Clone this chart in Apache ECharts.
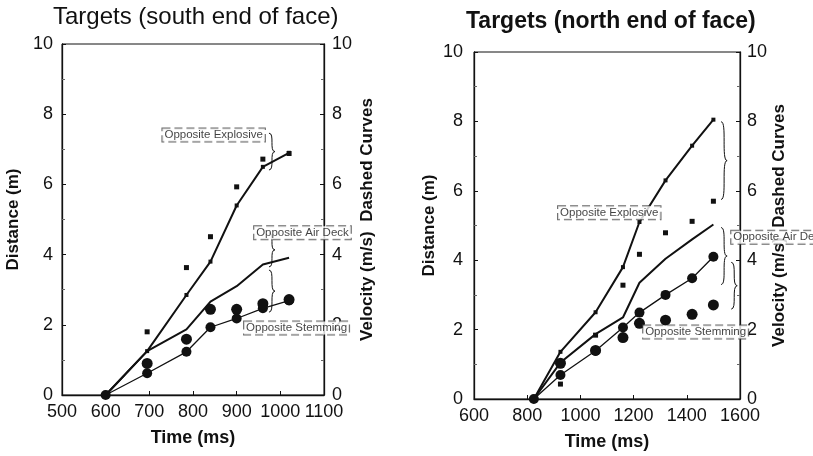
<!DOCTYPE html>
<html>
<head>
<meta charset="utf-8">
<script src="https://cdn.jsdelivr.net/npm/echarts@6/dist/echarts.min.js"></script>
<style>
  html, body { margin: 0; padding: 0; background: #fff; }
  #chart { width: 813px; height: 456px; }
</style>
</head>
<body>
<div id="chart"></div>
<script>
// south end of face
const southTime = [600, 695, 785, 840, 900, 960, 1020];
const southExplosiveDist = [0, 1.25, 2.85, 3.8, 5.4, 6.5, 6.9];
const southAirDeckDist = [0, 1.25, 1.87, 2.66, 3.1, 3.72, 3.91];
const southStemmingDist = [0, 0.62, 1.23, 1.93, 2.18, 2.47, 2.69];
const southExplosiveVel = [null, 1.8, 3.63, 4.51, 5.93, 6.72, 6.88];
const southAirDeckVel = [null, 0.9, 1.59, 2.44, 2.44, 2.6, 2.72];
const southBraces = [[974, 7.46, 6.41], [974, 4.62, 3.65], [974, 3.56, 2.36]];
const southLabels = [[730, 7.41, "Opposite Explosive"], [940, 4.62, "Opposite Air Deck"], [917, 1.91, "Opposite Stemming"]];

// north end of face
const northTime = [825, 925, 1057, 1160, 1222, 1320, 1420, 1500];
const northExplosiveDist = [0, 1.36, 2.5, 3.8, 5.1, 6.3, 7.3, 8.05];
const northAirDeckDist = [0, 1.05, 1.87, 2.35, 3.35, 4.04, 4.6, 5.03];
const northStemmingDist = [0, 0.69, 1.39, 2.06, 2.49, 3.0, 3.48, 4.1];
const northExplosiveVel = [null, 0.43, 1.84, 3.28, 4.17, 4.79, 5.12, 5.7];
const northAirDeckVel = [null, 1.03, 1.4, 1.77, 2.18, 2.27, 2.44, 2.71];
const northBraces = [[1529, 7.99, 5.75], [1529, 4.94, 3.30], [1567, 3.94, 2.59]];
const northLabels = [[916, 5.37, "Opposite Explosive"], [1567, 4.66, "Opposite Air Deck"], [1236, 1.93, "Opposite Stemming"]];

const ink = "#111";
const font = "'Liberation Sans', Arial, sans-serif";

function pairs(xs, ys) {
    return xs.map((x, i) => [x, ys[i]]).filter(p => p[1] != null);
}

function braceItem(params, api) {
    const x = api.value(0);
    const top = api.coord([x, api.value(1)]);
    const bot = api.coord([x, api.value(2)]);
    const w = 3;
    const x0 = top[0], y1 = top[1], y2 = bot[1], ym = (y1 + y2) / 2;
    const style = { stroke: ink, lineWidth: 1, fill: null };
    return {
        type: "group",
        children: [
            { type: "bezierCurve", shape: { x1: x0, y1: y1, cpx1: x0 + 2 * w, cpy1: y1, cpx2: x0, cpy2: ym, x2: x0 + 2 * w, y2: ym }, style: style },
            { type: "bezierCurve", shape: { x1: x0 + 2 * w, y1: ym, cpx1: x0, cpy1: ym, cpx2: x0 + 2 * w, cpy2: y2, x2: x0, y2: y2 }, style: style }
        ]
    };
}

function xAxisFor(grid, min, max, interval) {
    return {
        gridIndex: grid, type: "value", min: min, max: max, interval: interval,
        name: "Time (ms)", nameLocation: "middle", nameGap: 34,
        nameTextStyle: { fontSize: 18, fontWeight: "bold", color: ink, fontFamily: font },
        axisLine: { lineStyle: { color: ink, width: 1.3 } },
        axisTick: { inside: true, length: 4, lineStyle: { color: ink } },
        axisLabel: { fontSize: 18, color: ink, fontFamily: font, margin: 8, formatter: v => String(v) },
        splitLine: { show: false }
    };
}

function yAxisFor(grid, pos, name, gap, margin) {
    return {
        gridIndex: grid, type: "value", position: pos, min: 0, max: 10, interval: 2,
        name: name, nameLocation: "middle", nameGap: gap, nameRotate: 90,
        nameTextStyle: { fontSize: 17, fontWeight: "bold", color: ink, fontFamily: font },
        axisLine: { show: true, lineStyle: { color: ink, width: 1.3 } },
        axisTick: { inside: true, length: 4, lineStyle: { color: ink } },
        minorTick: { show: true, splitNumber: 2, length: 3, lineStyle: { color: "#666" } },
        axisLabel: { fontSize: 18, color: ink, fontFamily: font, margin: margin },
        splitLine: { show: false }
    };
}

function seriesFor(xi, yl, yr, time, expD, airD, stemD, expV, airV, braces, labels) {
    return [
        { type: "line", xAxisIndex: xi, yAxisIndex: yl, data: pairs(time, expD), symbol: "rect", symbolSize: 4,
          itemStyle: { color: ink }, lineStyle: { color: ink, width: 2 }, z: 3 },
        { type: "line", xAxisIndex: xi, yAxisIndex: yl, data: pairs(time, airD), symbol: "none",
          lineStyle: { color: ink, width: 2 }, z: 3 },
        { type: "line", xAxisIndex: xi, yAxisIndex: yl, data: pairs(time, stemD), symbol: "circle", symbolSize: 10,
          itemStyle: { color: ink }, lineStyle: { color: ink, width: 1.3 }, z: 3 },
        { type: "scatter", xAxisIndex: xi, yAxisIndex: yr, data: pairs(time, expV), symbol: "rect", symbolSize: 5,
          itemStyle: { color: ink, opacity: 1 }, z: 3 },
        { type: "scatter", xAxisIndex: xi, yAxisIndex: yr, data: pairs(time, airV), symbol: "circle", symbolSize: 11,
          itemStyle: { color: ink, opacity: 1 }, z: 3 },
        { type: "custom", xAxisIndex: xi, yAxisIndex: yl, data: braces, renderItem: braceItem,
          encode: { x: 0, y: [1, 2] }, clip: false, z: 4 },
        { type: "scatter", xAxisIndex: xi, yAxisIndex: yl, data: labels, symbolSize: 0, clip: false, z: 6,
          label: {
              show: true, position: "right", distance: 0, formatter: p => p.value[2],
              fontSize: 11.5, color: ink, fontFamily: font, backgroundColor: "#fff",
              borderColor: "#444", borderType: "dashed", borderWidth: 1, padding: [1, 2, 0, 2]
          } }
    ];
}

const chart = echarts.init(document.getElementById("chart"), null, { renderer: "canvas" });
chart.setOption({
    animation: false,
    backgroundColor: "#fff",
    title: [
        { text: "Targets (south end of face)", left: 48, top: 0,
          textStyle: { fontSize: 24, fontWeight: "normal", color: ink, fontFamily: font } },
        { text: "Targets (north end of face)", left: 461, top: 5,
          textStyle: { fontSize: 23, fontWeight: "bold", color: ink, fontFamily: font } }
    ],
    grid: [
        { left: 62, right: 489, top: 44, bottom: 61, show: true, borderColor: ink, borderWidth: 1 },
        { left: 474, right: 73, top: 52, bottom: 56, show: true, borderColor: ink, borderWidth: 1 }
    ],
    xAxis: [xAxisFor(0, 500, 1100, 100), xAxisFor(1, 600, 1600, 200)],
    yAxis: [
        yAxisFor(0, "left", "Distance (m)", 40, 9),
        yAxisFor(0, "right", "Velocity (m/s)  Dashed Curves", 35, 8),
        yAxisFor(1, "left", "Distance (m)", 36, 11),
        yAxisFor(1, "right", "Velocity (m/s)  Dashed Curves", 30, 7)
    ],
    series: [].concat(
        seriesFor(0, 0, 1, southTime, southExplosiveDist, southAirDeckDist, southStemmingDist,
                  southExplosiveVel, southAirDeckVel, southBraces, southLabels),
        seriesFor(1, 2, 3, northTime, northExplosiveDist, northAirDeckDist, northStemmingDist,
                  northExplosiveVel, northAirDeckVel, northBraces, northLabels)
    )
});
</script>
</body>
</html>
